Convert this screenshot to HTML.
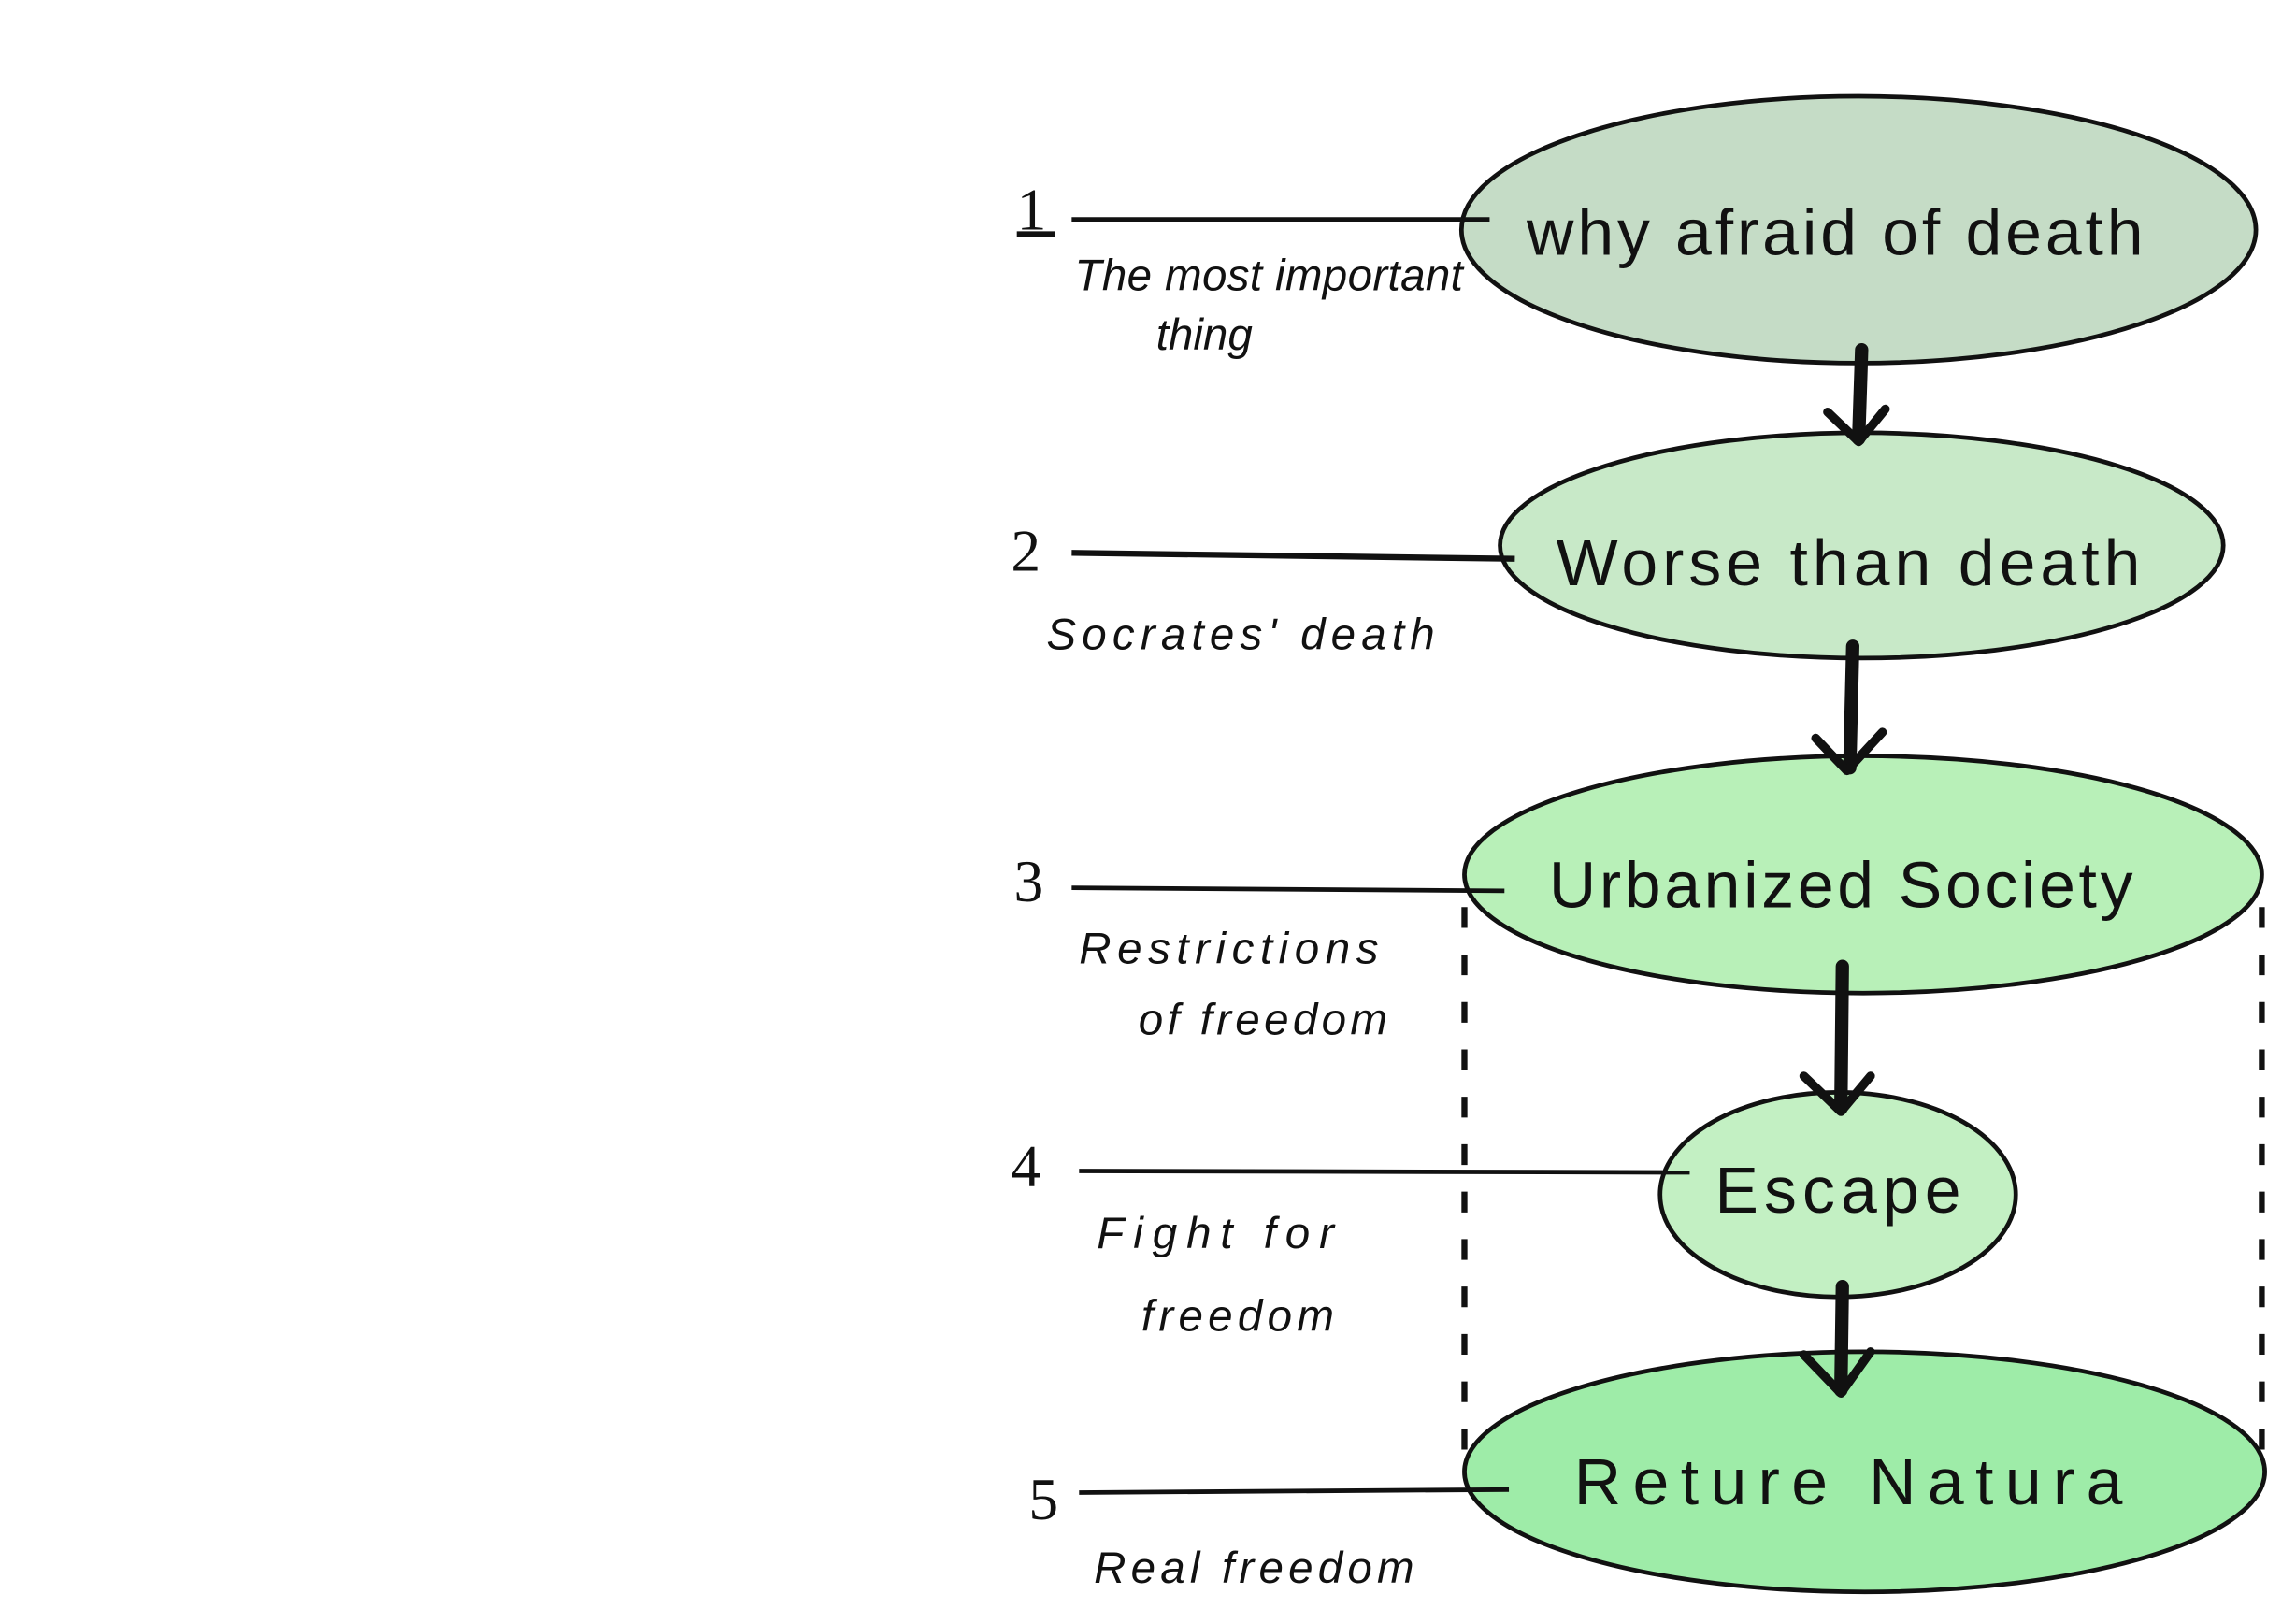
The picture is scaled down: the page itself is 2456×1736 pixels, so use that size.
<!DOCTYPE html>
<html><head><meta charset="utf-8"><style>
html,body{margin:0;padding:0;background:#fff;}
svg{display:block;}
text{font-family:"Liberation Sans",sans-serif;fill:#111;}
.n{font-family:"Liberation Serif",serif;font-size:40px;}
.l{font-size:30px;font-style:italic;}
.e{font-size:44px;}
</style></head><body>
<svg width="2456" height="1736" viewBox="0 0 1549 1095" xmlns="http://www.w3.org/2000/svg">
<rect width="1549" height="1095" fill="#fff"/>
<!-- dashed verticals -->
<line x1="988" y1="612" x2="988" y2="985" stroke="#111" stroke-width="4" stroke-dasharray="14,18"/>
<line x1="1526" y1="612" x2="1526" y2="980" stroke="#111" stroke-width="4" stroke-dasharray="14,18"/>
<!-- ellipses -->
<ellipse cx="1254" cy="155" rx="268" ry="90" fill="#c5dcc6" stroke="#111" stroke-width="3"/>
<ellipse cx="1256" cy="368" rx="244" ry="76" fill="#c8e9c8" stroke="#111" stroke-width="3"/>
<ellipse cx="1257" cy="590" rx="269" ry="80" fill="#b8f0b8" stroke="#111" stroke-width="3"/>
<ellipse cx="1240" cy="806" rx="120" ry="69" fill="#c3f0c3" stroke="#111" stroke-width="3"/>
<ellipse cx="1258" cy="993" rx="270" ry="81" fill="#9eeca8" stroke="#111" stroke-width="3"/>
<!-- arrows -->
<g stroke="#111" stroke-width="9" fill="none" stroke-linecap="round" stroke-linejoin="round">
<line x1="1256" y1="236" x2="1254" y2="296"/><polyline points="1233,278 1254,298 1272,276" stroke-width="6"/>
<line x1="1250" y1="436" x2="1248" y2="518"/><polyline points="1225,498 1246,520 1270,494" stroke-width="6"/>
<line x1="1243" y1="652" x2="1242" y2="748"/><polyline points="1217,726 1242,750 1262,726" stroke-width="6"/>
<line x1="1243" y1="868" x2="1242" y2="938"/><polyline points="1217,914 1242,940 1262,912" stroke-width="6"/>
</g>
<!-- leader lines -->
<g stroke="#111" stroke-width="3">
<line x1="723" y1="148" x2="1005" y2="148"/>
<line x1="723" y1="373" x2="1022" y2="377" stroke-width="4"/>
<line x1="723" y1="599" x2="1015" y2="601"/>
<line x1="728" y1="790" x2="1140" y2="791"/>
<line x1="728" y1="1007" x2="1018" y2="1005"/>
<line x1="686" y1="158" x2="712" y2="158" stroke-width="4"/>
</g>
<!-- numbers -->
<text class="n" x="686" y="155">1</text>
<text class="n" x="682" y="385">2</text>
<text class="n" x="684" y="608">3</text>
<text class="n" x="682" y="800">4</text>
<text class="n" x="694" y="1025">5</text>
<!-- side labels -->
<text class="l" x="725" y="196" textLength="262">The most important</text>
<text class="l" x="780" y="236">thing</text>
<text class="l" x="706" y="438" textLength="262">Socrates' death</text>
<text class="l" x="728" y="650" textLength="202">Restrictions</text>
<text class="l" x="768" y="698" textLength="168">of freedom</text>
<text class="l" x="740" y="842" textLength="160">Fight for</text>
<text class="l" x="770" y="898" textLength="130">freedom</text>
<text class="l" x="738" y="1068" textLength="216">Real freedom</text>
<!-- ellipse labels -->
<text class="e" x="1030" y="172" textLength="416">why afraid of death</text>
<text class="e" x="1050" y="395" textLength="394">Worse than death</text>
<text class="e" x="1045" y="612" textLength="394">Urbanized Society</text>
<text class="e" x="1157" y="818" textLength="166">Escape</text>
<text class="e" x="1062" y="1015" textLength="370">Reture Natura</text>
</svg>
</body></html>
